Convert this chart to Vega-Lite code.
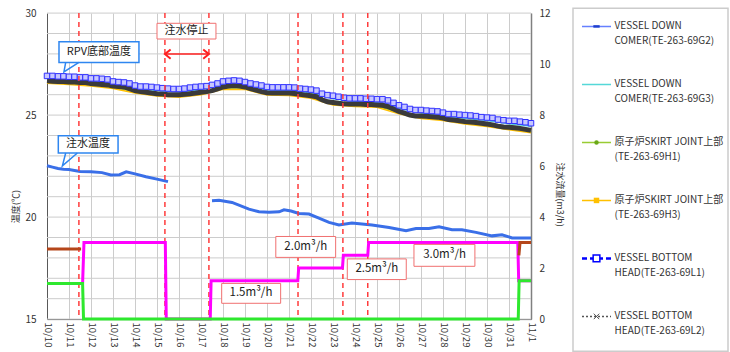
{
  "$schema": "https://vega.github.io/schema/vega-lite/v6.json",
  "padding": {"left": 11, "top": 7, "right": 0, "bottom": 0},
  "spacing": 9,
  "center": true,
  "config": {
    "font": "Noto Sans CJK JP",
    "view": {"stroke": null},
    "axis": {
      "ticks": false, "tickSize": 0, "labelOverlap": false,
      "labelFont": "Noto Sans CJK JP", "labelFontSize": 10, "labelColor": "#333333",
      "titleFont": "Noto Sans CJK JP", "titleFontSize": 9, "titleFontWeight": "normal", "titleColor": "#333333",
      "gridColor": "#cccccc", "gridOpacity": 1
    },
    "text": {"font": "Noto Sans CJK JP"}
  },
  "datasets": {
    "temp": [
      {"d":"2012-10-10T00:00","L1":26.92,"L2":26.68,"G2":26.82,"G3":26.77,"H1":26.63,"H3":26.56},
      {"d":"2012-10-10T06:00","L1":26.92,"L2":26.66},
      {"d":"2012-10-10T12:00","L1":26.9,"L2":26.65},
      {"d":"2012-10-10T18:00","L1":26.9,"L2":26.65},
      {"d":"2012-10-11T00:00","L1":26.88,"L2":26.62,"G2":26.78,"G3":26.73,"H1":26.57,"H3":26.5},
      {"d":"2012-10-11T06:00","L1":26.88,"L2":26.62},
      {"d":"2012-10-11T12:00","L1":26.85,"L2":26.6},
      {"d":"2012-10-11T18:00","L1":26.85,"L2":26.6},
      {"d":"2012-10-12T00:00","L1":26.8,"L2":26.55,"G2":26.7,"G3":26.65,"H1":26.5,"H3":26.43},
      {"d":"2012-10-12T06:00","L1":26.8,"L2":26.52},
      {"d":"2012-10-12T12:00","L1":26.78,"L2":26.5},
      {"d":"2012-10-12T18:00","L1":26.75,"L2":26.48},
      {"d":"2012-10-13T00:00","L1":26.65,"L2":26.42,"G2":26.55,"G3":26.5,"H1":26.37,"H3":26.3},
      {"d":"2012-10-13T06:00","L1":26.62,"L2":26.4},
      {"d":"2012-10-13T12:00","L1":26.6,"L2":26.38},
      {"d":"2012-10-13T18:00","L1":26.55,"L2":26.3},
      {"d":"2012-10-14T00:00","L1":26.45,"L2":26.2,"G2":26.35,"G3":26.3,"H1":26.15,"H3":26.08},
      {"d":"2012-10-14T06:00","L1":26.4,"L2":26.15},
      {"d":"2012-10-14T12:00","L1":26.4,"L2":26.12},
      {"d":"2012-10-14T18:00","L1":26.38,"L2":26.08},
      {"d":"2012-10-15T00:00","L1":26.35,"L2":26.05,"G2":26.25,"G3":26.2,"H1":26.0,"H3":25.93},
      {"d":"2012-10-15T06:00","L1":26.32,"L2":26.03},
      {"d":"2012-10-15T12:00","L1":26.3,"L2":26.0},
      {"d":"2012-10-15T18:00","L1":26.28,"L2":26.0},
      {"d":"2012-10-16T00:00","L1":26.28,"L2":26.0,"G2":26.18,"G3":26.13,"H1":25.95,"H3":25.88},
      {"d":"2012-10-16T06:00","L1":26.3,"L2":26.02},
      {"d":"2012-10-16T12:00","L1":26.35,"L2":26.05},
      {"d":"2012-10-16T18:00","L1":26.38,"L2":26.08},
      {"d":"2012-10-17T00:00","L1":26.4,"L2":26.12,"G2":26.3,"G3":26.25,"H1":26.07,"H3":26.0},
      {"d":"2012-10-17T06:00","L1":26.42,"L2":26.15},
      {"d":"2012-10-17T12:00","L1":26.48,"L2":26.2},
      {"d":"2012-10-17T18:00","L1":26.55,"L2":26.28},
      {"d":"2012-10-18T00:00","L1":26.65,"L2":26.38,"G2":26.55,"G3":26.5,"H1":26.33,"H3":26.26},
      {"d":"2012-10-18T06:00","L1":26.68,"L2":26.42},
      {"d":"2012-10-18T12:00","L1":26.7,"L2":26.45},
      {"d":"2012-10-18T18:00","L1":26.68,"L2":26.42},
      {"d":"2012-10-19T00:00","L1":26.62,"L2":26.38,"G2":26.52,"G3":26.47,"H1":26.33,"H3":26.26},
      {"d":"2012-10-19T06:00","L1":26.55,"L2":26.3},
      {"d":"2012-10-19T12:00","L1":26.5,"L2":26.22},
      {"d":"2012-10-19T18:00","L1":26.45,"L2":26.15},
      {"d":"2012-10-20T00:00","L1":26.38,"L2":26.1,"G2":26.28,"G3":26.23,"H1":26.05,"H3":25.98},
      {"d":"2012-10-20T06:00","L1":26.36,"L2":26.08},
      {"d":"2012-10-20T12:00","L1":26.36,"L2":26.08},
      {"d":"2012-10-20T18:00","L1":26.36,"L2":26.08},
      {"d":"2012-10-21T00:00","L1":26.36,"L2":26.08,"G2":26.26,"G3":26.21,"H1":26.03,"H3":25.96},
      {"d":"2012-10-21T06:00","L1":26.35,"L2":26.06},
      {"d":"2012-10-21T12:00","L1":26.3,"L2":26.02},
      {"d":"2012-10-21T18:00","L1":26.28,"L2":25.98},
      {"d":"2012-10-22T00:00","L1":26.25,"L2":25.95,"G2":26.15,"G3":26.1,"H1":25.9,"H3":25.83},
      {"d":"2012-10-22T06:00","L1":26.2,"L2":25.9},
      {"d":"2012-10-22T12:00","L1":26.05,"L2":25.75},
      {"d":"2012-10-22T18:00","L1":25.98,"L2":25.65},
      {"d":"2012-10-23T00:00","L1":25.95,"L2":25.62,"G2":25.85,"G3":25.8,"H1":25.57,"H3":25.5},
      {"d":"2012-10-23T06:00","L1":25.9,"L2":25.58},
      {"d":"2012-10-23T12:00","L1":25.85,"L2":25.55},
      {"d":"2012-10-23T18:00","L1":25.82,"L2":25.54},
      {"d":"2012-10-24T00:00","L1":25.82,"L2":25.54,"G2":25.72,"G3":25.67,"H1":25.49,"H3":25.42},
      {"d":"2012-10-24T06:00","L1":25.82,"L2":25.54},
      {"d":"2012-10-24T12:00","L1":25.8,"L2":25.52},
      {"d":"2012-10-24T18:00","L1":25.8,"L2":25.52},
      {"d":"2012-10-25T00:00","L1":25.78,"L2":25.5,"G2":25.68,"G3":25.63,"H1":25.45,"H3":25.38},
      {"d":"2012-10-25T06:00","L1":25.78,"L2":25.48},
      {"d":"2012-10-25T12:00","L1":25.72,"L2":25.42},
      {"d":"2012-10-25T18:00","L1":25.6,"L2":25.3},
      {"d":"2012-10-26T00:00","L1":25.48,"L2":25.18,"G2":25.38,"G3":25.33,"H1":25.13,"H3":25.06},
      {"d":"2012-10-26T06:00","L1":25.4,"L2":25.1},
      {"d":"2012-10-26T12:00","L1":25.3,"L2":25.0},
      {"d":"2012-10-26T18:00","L1":25.25,"L2":24.96},
      {"d":"2012-10-27T00:00","L1":25.25,"L2":24.95,"G2":25.15,"G3":25.1,"H1":24.9,"H3":24.83},
      {"d":"2012-10-27T06:00","L1":25.22,"L2":24.94},
      {"d":"2012-10-27T12:00","L1":25.2,"L2":24.92},
      {"d":"2012-10-27T18:00","L1":25.18,"L2":24.9},
      {"d":"2012-10-28T00:00","L1":25.12,"L2":24.85,"G2":25.02,"G3":24.97,"H1":24.8,"H3":24.73},
      {"d":"2012-10-28T06:00","L1":25.05,"L2":24.78},
      {"d":"2012-10-28T12:00","L1":25.05,"L2":24.76},
      {"d":"2012-10-28T18:00","L1":25.02,"L2":24.72},
      {"d":"2012-10-29T00:00","L1":25.0,"L2":24.68,"G2":24.9,"G3":24.85,"H1":24.63,"H3":24.56},
      {"d":"2012-10-29T06:00","L1":24.98,"L2":24.66},
      {"d":"2012-10-29T12:00","L1":24.95,"L2":24.64},
      {"d":"2012-10-29T18:00","L1":24.9,"L2":24.6},
      {"d":"2012-10-30T00:00","L1":24.88,"L2":24.56,"G2":24.78,"G3":24.73,"H1":24.51,"H3":24.44},
      {"d":"2012-10-30T06:00","L1":24.86,"L2":24.52},
      {"d":"2012-10-30T12:00","L1":24.78,"L2":24.46},
      {"d":"2012-10-30T18:00","L1":24.75,"L2":24.42},
      {"d":"2012-10-31T00:00","L1":24.72,"L2":24.4,"G2":24.62,"G3":24.57,"H1":24.35,"H3":24.28},
      {"d":"2012-10-31T06:00","L1":24.72,"L2":24.38},
      {"d":"2012-10-31T12:00","L1":24.68,"L2":24.35},
      {"d":"2012-10-31T18:00","L1":24.65,"L2":24.3},
      {"d":"2012-11-01T00:00","L1":24.6,"L2":24.25,"G2":24.5,"G3":24.45,"H1":24.2,"H3":24.13}
    ],
    "inj": [
      {"d":"2012-10-10T00:00","v":22.52,"seg":"a"},
      {"d":"2012-10-10T06:00","v":22.45,"seg":"a"},
      {"d":"2012-10-10T12:00","v":22.38,"seg":"a"},
      {"d":"2012-10-10T18:00","v":22.35,"seg":"a"},
      {"d":"2012-10-11T00:00","v":22.33,"seg":"a"},
      {"d":"2012-10-11T12:00","v":22.24,"seg":"a"},
      {"d":"2012-10-12T00:00","v":22.22,"seg":"a"},
      {"d":"2012-10-12T12:00","v":22.18,"seg":"a"},
      {"d":"2012-10-12T21:36","v":22.06,"seg":"a"},
      {"d":"2012-10-13T07:12","v":22.08,"seg":"a"},
      {"d":"2012-10-13T14:24","v":22.22,"seg":"a"},
      {"d":"2012-10-14T00:00","v":22.12,"seg":"a"},
      {"d":"2012-10-14T12:00","v":21.98,"seg":"a"},
      {"d":"2012-10-15T00:00","v":21.86,"seg":"a"},
      {"d":"2012-10-15T12:00","v":21.74,"seg":"a"},
      {"d":"2012-10-17T12:00","v":20.8,"seg":"b"},
      {"d":"2012-10-17T19:40","v":20.82,"seg":"b"},
      {"d":"2012-10-18T09:50","v":20.72,"seg":"b"},
      {"d":"2012-10-19T04:20","v":20.39,"seg":"b"},
      {"d":"2012-10-19T15:20","v":20.26,"seg":"b"},
      {"d":"2012-10-20T02:10","v":20.24,"seg":"b"},
      {"d":"2012-10-20T13:12","v":20.26,"seg":"b"},
      {"d":"2012-10-20T18:30","v":20.36,"seg":"b"},
      {"d":"2012-10-21T02:10","v":20.3,"seg":"b"},
      {"d":"2012-10-21T10:48","v":20.18,"seg":"b"},
      {"d":"2012-10-21T21:50","v":20.15,"seg":"b"},
      {"d":"2012-10-22T08:38","v":19.95,"seg":"b"},
      {"d":"2012-10-22T19:41","v":19.74,"seg":"b"},
      {"d":"2012-10-23T06:29","v":19.61,"seg":"b"},
      {"d":"2012-10-23T20:38","v":19.71,"seg":"b"},
      {"d":"2012-10-24T18:29","v":19.61,"seg":"b"},
      {"d":"2012-10-25T13:12","v":19.49,"seg":"b"},
      {"d":"2012-10-26T07:41","v":19.33,"seg":"b"},
      {"d":"2012-10-26T18:29","v":19.44,"seg":"b"},
      {"d":"2012-10-27T08:38","v":19.44,"seg":"b"},
      {"d":"2012-10-27T19:41","v":19.53,"seg":"b"},
      {"d":"2012-10-28T09:50","v":19.38,"seg":"b"},
      {"d":"2012-10-28T20:38","v":19.38,"seg":"b"},
      {"d":"2012-10-29T12:00","v":19.25,"seg":"b"},
      {"d":"2012-10-30T05:31","v":19.08,"seg":"b"},
      {"d":"2012-10-30T16:19","v":19.13,"seg":"b"},
      {"d":"2012-10-31T03:22","v":18.98,"seg":"b"},
      {"d":"2012-11-01T00:00","v":18.97,"seg":"b"}
    ],
    "flow": [
      {"d":"2012-10-11T14:50","v":1.4,"s":"M","seg":"m"},
      {"d":"2012-10-11T16:20","v":3.0,"s":"M","seg":"m"},
      {"d":"2012-10-15T09:05","v":3.0,"s":"M","seg":"m"},
      {"d":"2012-10-15T10:05","v":0,"s":"M","seg":"m"},
      {"d":"2012-10-17T10:05","v":0,"s":"M","seg":"m"},
      {"d":"2012-10-17T11:00","v":1.5,"s":"M","seg":"m"},
      {"d":"2012-10-21T09:36","v":1.5,"s":"M","seg":"m"},
      {"d":"2012-10-21T10:34","v":2.0,"s":"M","seg":"m"},
      {"d":"2012-10-23T10:19","v":2.0,"s":"M","seg":"m"},
      {"d":"2012-10-23T11:17","v":2.5,"s":"M","seg":"m"},
      {"d":"2012-10-24T13:55","v":2.5,"s":"M","seg":"m"},
      {"d":"2012-10-24T14:53","v":3.0,"s":"M","seg":"m"},
      {"d":"2012-10-31T09:36","v":3.0,"s":"M","seg":"m"},
      {"d":"2012-10-31T10:34","v":1.5,"s":"M","seg":"m"},
      {"d":"2012-11-01T00:00","v":1.5,"s":"M","seg":"m"},
      {"d":"2012-10-10T00:00","v":1.4,"s":"G","seg":"g"},
      {"d":"2012-10-11T14:50","v":1.4,"s":"G","seg":"g"},
      {"d":"2012-10-11T15:50","v":0,"s":"G","seg":"g"},
      {"d":"2012-10-31T10:05","v":0,"s":"G","seg":"g"},
      {"d":"2012-10-31T11:02","v":1.5,"s":"G","seg":"g"},
      {"d":"2012-11-01T00:00","v":1.5,"s":"G","seg":"g"},
      {"d":"2012-10-10T00:00","v":2.75,"s":"B","seg":"b1"},
      {"d":"2012-10-11T13:12","v":2.75,"s":"B","seg":"b1"},
      {"d":"2012-10-31T10:48","v":2.5,"s":"B","seg":"b2"},
      {"d":"2012-10-31T12:00","v":3.0,"s":"B","seg":"b2"},
      {"d":"2012-11-01T00:00","v":3.0,"s":"B","seg":"b2"}
    ]
  },
  "hconcat": [
    {
      "width": 484,
      "height": 306,
      "resolve": {"scale": {"y": "independent"}},
      "layer": [
        {
          "layer": [
            {
              "description": "one horizontal grid line per degree",
              "data": {"values": [
                {"v": 15}, {"v": 16}, {"v": 17}, {"v": 18}, {"v": 19}, {"v": 20}, {"v": 21}, {"v": 22},
                {"v": 23}, {"v": 24}, {"v": 25}, {"v": 26}, {"v": 27}, {"v": 28}, {"v": 29}, {"v": 30}
              ]},
              "mark": {"type": "rule", "color": "#cccccc", "strokeWidth": 1},
              "encoding": {
                "y": {
                  "field": "v", "type": "quantitative", "title": "温度(℃)",
                  "scale": {"domain": [15, 30], "nice": false, "zero": false},
                  "axis": {
                    "values": [15, 20, 25, 30],
                    "grid": false, "labelPadding": 11, "domainColor": "#595959", "labelOverlap": false,
                    "titleX": -32, "titleY": 193, "titleAngle": -90, "titleBaseline": "middle"
                  }
                }
              }
            },
            {
              "data": {"name": "temp"},
              "transform": [
                {"fold": ["G3", "G2", "H1", "H3"], "as": ["s", "v"]},
                {"filter": "isValid(datum.v)"}
              ],
              "mark": {"type": "line", "strokeWidth": 1.5},
              "encoding": {
                "x": {
                  "field": "d", "type": "temporal", "title": null,
                  "scale": {"domain": [{"year": 2012, "month": 10, "date": 10}, {"year": 2012, "month": 11, "date": 1}]},
                  "axis": {
                    "format": "%-m/%-d", "labelAngle": 90, "tickCount": {"interval": "day", "step": 1},
                    "grid": true, "labelPadding": 3, "domainColor": "#404040", "labelFontSize": 9.5,
                    "labelFlush": false, "labelOverlap": false
                  }
                },
                "y": {"field": "v", "type": "quantitative"},
                "color": {
                  "field": "s", "type": "nominal", "legend": null,
                  "scale": {"domain": ["G2", "G3", "H1", "H3", "L1", "L2"], "range": ["#6680ff", "#55d8d8", "#99cc33", "#ffc000", "#0000ff", "#555555"]}
                }
              }
            },
            {
              "data": {"name": "temp"},
              "transform": [
                {"fold": ["L2"], "as": ["s", "v"]},
                {"filter": "isValid(datum.v)"}
              ],
              "mark": {"type": "line", "strokeWidth": 5, "color": "#3a3a3a"},
              "encoding": {
                "x": {"field": "d", "type": "temporal", "title": null},
                "y": {"field": "v", "type": "quantitative"}
              }
            },
            {
              "data": {"name": "temp"},
              "transform": [
                {"fold": ["L1"], "as": ["s", "v"]},
                {"filter": "isValid(datum.v)"}
              ],
              "mark": {"type": "line", "strokeWidth": 1.5, "color": "#2b2bff", "strokeDash": [4, 2]},
              "encoding": {
                "x": {"field": "d", "type": "temporal", "title": null},
                "y": {"field": "v", "type": "quantitative"}
              }
            },
            {
              "data": {"name": "temp"},
              "transform": [
                {"fold": ["L1"], "as": ["s", "v"]},
                {"filter": "isValid(datum.v)"}
              ],
              "mark": {"type": "point", "shape": "square", "size": 30, "filled": true, "fill": "#c6c6ff", "stroke": "#3030ff", "strokeWidth": 1, "opacity": 1},
              "encoding": {
                "x": {"field": "d", "type": "temporal", "title": null},
                "y": {"field": "v", "type": "quantitative"}
              }
            },
            {
              "data": {"name": "inj"},
              "mark": {"type": "line", "strokeWidth": 3, "color": "#3a6fe8"},
              "encoding": {
                "x": {"field": "d", "type": "temporal", "title": null},
                "y": {"field": "v", "type": "quantitative"},
                "detail": {"field": "seg"}
              }
            },
            {
              "data": {"values": [
                {"d": "2012-10-11T10:48"}, {"d": "2012-10-15T08:38"}, {"d": "2012-10-17T08:38"},
                {"d": "2012-10-21T09:50"}, {"d": "2012-10-23T10:48"}, {"d": "2012-10-24T13:55"}
              ]},
              "mark": {"type": "rule", "color": "#ff3c3c", "strokeWidth": 1.5, "strokeDash": [5, 4]},
              "encoding": {
                "x": {"field": "d", "type": "temporal", "title": null}
              }
            },
            {
              "data": {
                "values": [
                  {"d": "2012-10-10T13:05", "d2": "2012-10-14T04:19", "v": 28.59, "v2": 27.58},
                  {"d": "2012-10-10T12:20", "d2": "2012-10-13T05:31", "v": 23.99, "v2": 23.14}
                ],
                "format": {"parse": {"d": "date", "d2": "date"}}
              },
              "mark": {"type": "rect", "fill": "#ffffff", "stroke": "#2e86f0", "strokeWidth": 1.5},
              "encoding": {
                "x": {"field": "d", "type": "temporal", "title": null},
                "x2": {"field": "d2"},
                "y": {"field": "v", "type": "quantitative"},
                "y2": {"field": "v2"}
              }
            },
            {
              "data": {
                "values": [
                  {"g": "rpv", "o": 1, "d": "2012-10-10T20:24", "v": 27.58},
                  {"g": "rpv", "o": 2, "d": "2012-10-10T18:29", "v": 27.12},
                  {"g": "rpv", "o": 3, "d": "2012-10-11T10:48", "v": 27.58},
                  {"g": "inj", "o": 1, "d": "2012-10-10T20:24", "v": 23.14},
                  {"g": "inj", "o": 2, "d": "2012-10-10T16:48", "v": 22.51},
                  {"g": "inj", "o": 3, "d": "2012-10-11T09:07", "v": 23.14}
                ]
              },
              "mark": {"type": "line", "strokeWidth": 1.5, "color": "#2e86f0"},
              "encoding": {
                "x": {"field": "d", "type": "temporal", "title": null},
                "y": {"field": "v", "type": "quantitative"},
                "detail": {"field": "g"},
                "order": {"field": "o"}
              }
            },
            {
              "data": {
                "values": [
                  {"d": "2012-10-15T00:00", "d2": "2012-10-17T16:19", "v": 29.5, "v2": 28.73}
                ],
                "format": {"parse": {"d": "date", "d2": "date"}}
              },
              "mark": {"type": "rect", "fill": "#ffffff", "stroke": "#f07070", "strokeWidth": 1},
              "encoding": {
                "x": {"field": "d", "type": "temporal", "title": null},
                "x2": {"field": "d2"},
                "y": {"field": "v", "type": "quantitative"},
                "y2": {"field": "v2"}
              }
            },
            {
              "data": {
                "values": [
                  {"d": "2012-10-15T08:38", "d2": "2012-10-17T08:38", "v": 27.99}
                ],
                "format": {"parse": {"d": "date", "d2": "date"}}
              },
              "mark": {"type": "rule", "color": "#ff2020", "strokeWidth": 1.5},
              "encoding": {
                "x": {"field": "d", "type": "temporal", "title": null},
                "x2": {"field": "d2"},
                "y": {"field": "v", "type": "quantitative"}
              }
            },
            {
              "data": {"values": [{"d": "2012-10-15T08:38", "v": 27.99}]},
              "mark": {"type": "point", "shape": "M1,-0.8L0,0L1,0.8", "size": 130, "filled": false, "stroke": "#ff2020", "strokeWidth": 2, "opacity": 1},
              "encoding": {
                "x": {"field": "d", "type": "temporal", "title": null},
                "y": {"field": "v", "type": "quantitative"}
              }
            },
            {
              "data": {"values": [{"d": "2012-10-17T08:38", "v": 27.99}]},
              "mark": {"type": "point", "shape": "M-1,-0.8L0,0L-1,0.8", "size": 130, "filled": false, "stroke": "#ff2020", "strokeWidth": 2, "opacity": 1},
              "encoding": {
                "x": {"field": "d", "type": "temporal", "title": null},
                "y": {"field": "v", "type": "quantitative"}
              }
            },
            {
              "data": {
                "values": [
                  {"d": "2012-10-12T08:38", "v": 28.09, "txt": "RPV底部温度"},
                  {"d": "2012-10-11T20:38", "v": 23.56, "txt": "注水温度"},
                  {"d": "2012-10-16T08:10", "v": 29.11, "txt": "注水停止"}
                ]
              },
              "mark": {"type": "text", "fontSize": 11, "color": "#222222", "align": "center", "baseline": "middle"},
              "encoding": {
                "x": {"field": "d", "type": "temporal", "title": null},
                "y": {"field": "v", "type": "quantitative"},
                "text": {"field": "txt"}
              }
            }
          ]
        },
        {
          "layer": [
            {
              "data": {"name": "flow"},
              "transform": [{"filter": {"field": "s", "equal": "M"}}],
              "mark": {"type": "line", "strokeWidth": 3, "color": "#ff00ff"},
              "encoding": {
                "x": {"field": "d", "type": "temporal", "title": null},
                "y": {
                  "field": "v", "type": "quantitative", "title": "注水流量(m3/h)",
                  "scale": {"domain": [0, 12], "nice": false},
                  "axis": {
                    "orient": "right", "values": [0, 1, 2, 3, 4, 5, 6, 7, 8, 9, 10, 11, 12],
                    "grid": false, "labelPadding": 8, "domainColor": "#808080", "domainWidth": 1.5, "labelOverlap": false,
                    "titleX": 28, "titleY": 181, "titleAngle": 90, "titleBaseline": "middle"
                  }
                }
              }
            },
            {
              "data": {"name": "flow"},
              "transform": [{"filter": {"field": "s", "equal": "G"}}],
              "mark": {"type": "line", "strokeWidth": 3, "color": "#2ee82e"},
              "encoding": {
                "x": {"field": "d", "type": "temporal", "title": null},
                "y": {"field": "v", "type": "quantitative"}
              }
            },
            {
              "data": {"name": "flow"},
              "transform": [{"filter": {"field": "s", "equal": "B"}}],
              "mark": {"type": "line", "strokeWidth": 3, "color": "#b5461a"},
              "encoding": {
                "x": {"field": "d", "type": "temporal", "title": null},
                "y": {"field": "v", "type": "quantitative"},
                "detail": {"field": "seg"}
              }
            },
            {
              "data": {
                "values": [
                  {"d": "2012-10-17T22:34", "d2": "2012-10-20T14:53", "v": 1.4, "v2": 0.62},
                  {"d": "2012-10-20T09:36", "d2": "2012-10-23T02:53", "v": 3.24, "v2": 2.42},
                  {"d": "2012-10-23T15:36", "d2": "2012-10-26T07:55", "v": 2.36, "v2": 1.55},
                  {"d": "2012-10-26T16:19", "d2": "2012-10-29T10:48", "v": 2.93, "v2": 2.07}
                ],
                "format": {"parse": {"d": "date", "d2": "date"}}
              },
              "mark": {"type": "rect", "fill": "#ffffff", "stroke": "#f07070", "strokeWidth": 1},
              "encoding": {
                "x": {"field": "d", "type": "temporal", "title": null},
                "x2": {"field": "d2"},
                "y": {"field": "v", "type": "quantitative"},
                "y2": {"field": "v2"}
              }
            },
            {
              "data": {
                "values": [
                  {"d": "2012-10-19T06:29", "v": 1.01, "txt": "1.5m³/h"},
                  {"d": "2012-10-21T18:14", "v": 2.83, "txt": "2.0m³/h"},
                  {"d": "2012-10-24T23:46", "v": 1.95, "txt": "2.5m³/h"},
                  {"d": "2012-10-28T01:41", "v": 2.5, "txt": "3.0m³/h"}
                ]
              },
              "mark": {"type": "text", "fontSize": 11.5, "color": "#222222", "align": "center", "baseline": "middle"},
              "encoding": {
                "x": {"field": "d", "type": "temporal", "title": null},
                "y": {"field": "v", "type": "quantitative"},
                "text": {"field": "txt"}
              }
            }
          ]
        }
      ]
    },
    {
      "width": 155,
      "height": 343,
      "data": {"values": [
        {"s": "G2", "i": 0, "l1": "VESSEL DOWN", "l2": "COMER(TE-263-69G2)"},
        {"s": "G3", "i": 1, "l1": "VESSEL DOWN", "l2": "COMER(TE-263-69G3)"},
        {"s": "H1", "i": 2, "l1": "原子炉SKIRT JOINT上部", "l2": "(TE-263-69H1)"},
        {"s": "H3", "i": 3, "l1": "原子炉SKIRT JOINT上部", "l2": "(TE-263-69H3)"},
        {"s": "L1", "i": 4, "l1": "VESSEL BOTTOM", "l2": "HEAD(TE-263-69L1)"},
        {"s": "L2", "i": 5, "l1": "VESSEL BOTTOM", "l2": "HEAD(TE-263-69L2)"}
      ]},
      "encoding": {
        "y": {"field": "i", "type": "quantitative", "axis": null, "scale": {"domain": [-0.3155, 5.598], "reverse": true, "nice": false, "zero": false}}
      },
      "layer": [
        {
          "data": {"values": [{"x0": 0, "x1": 155, "y0": -0.3155, "y1": 5.598}]},
          "mark": {"type": "rect", "fill": "#ffffff", "stroke": "#cccccc", "strokeWidth": 1.5},
          "encoding": {
            "x": {"field": "x0", "type": "quantitative", "axis": null, "scale": {"domain": [0, 155], "nice": false, "zero": false}},
            "x2": {"field": "x1"},
            "y": {"field": "y0", "type": "quantitative"},
            "y2": {"field": "y1"}
          }
        },
        {
          "transform": [{"filter": {"field": "s", "oneOf": ["G2", "G3", "H1", "H3", "L2"]}}],
          "mark": {"type": "rule", "strokeWidth": 1.5},
          "encoding": {
            "x": {"datum": 9, "type": "quantitative"},
            "x2": {"datum": 38},
            "color": {
              "field": "s", "type": "nominal", "legend": null,
              "scale": {"domain": ["G2", "G3", "H1", "H3", "L1", "L2"], "range": ["#6680ff", "#55d8d8", "#99cc33", "#ffc000", "#0000ff", "#555555"]}
            },
            "strokeDash": {
              "field": "s", "type": "nominal", "legend": null,
              "scale": {"domain": ["G2", "G3", "H1", "H3", "L2"], "range": [[1, 0], [1, 0], [1, 0], [1, 0], [2, 2]]}
            }
          }
        },
        {
          "transform": [{"filter": {"field": "s", "equal": "L1"}}],
          "mark": {"type": "rule", "strokeWidth": 2.5, "color": "#0000ff", "strokeDash": [5, 3]},
          "encoding": {
            "x": {"datum": 9, "type": "quantitative"},
            "x2": {"datum": 38}
          }
        },
        {
          "transform": [{"filter": {"field": "s", "equal": "G2"}}],
          "mark": {"type": "point", "shape": "stroke", "size": 40, "strokeWidth": 2.5, "color": "#1f3fcf", "filled": false, "opacity": 1},
          "encoding": {"x": {"datum": 23.5, "type": "quantitative"}}
        },
        {
          "transform": [{"filter": {"field": "s", "equal": "H1"}}],
          "mark": {"type": "point", "shape": "circle", "size": 20, "filled": true, "color": "#6aa818", "opacity": 1},
          "encoding": {"x": {"datum": 23.5, "type": "quantitative"}}
        },
        {
          "transform": [{"filter": {"field": "s", "equal": "H3"}}],
          "mark": {"type": "point", "shape": "square", "size": 30, "filled": true, "color": "#ffc000", "opacity": 1},
          "encoding": {"x": {"datum": 23.5, "type": "quantitative"}}
        },
        {
          "transform": [{"filter": {"field": "s", "equal": "L1"}}],
          "mark": {"type": "point", "shape": "square", "size": 45, "filled": true, "fill": "#ffffff", "stroke": "#0000ff", "strokeWidth": 1.5, "opacity": 1},
          "encoding": {"x": {"datum": 23.5, "type": "quantitative"}}
        },
        {
          "transform": [{"filter": {"field": "s", "equal": "L2"}}],
          "mark": {"type": "point", "shape": "M-1,-1L1,1M-1,1L1,-1", "size": 30, "filled": false, "stroke": "#555555", "strokeWidth": 1, "opacity": 1},
          "encoding": {"x": {"datum": 23.5, "type": "quantitative"}}
        },
        {
          "mark": {"type": "text", "align": "left", "baseline": "middle", "fontSize": 10, "color": "#333333"},
          "encoding": {
            "x": {"datum": 41.5, "type": "quantitative"},
            "text": {"field": "l1"}
          }
        },
        {
          "mark": {"type": "text", "align": "left", "baseline": "middle", "fontSize": 10, "color": "#333333", "dy": 15},
          "encoding": {
            "x": {"datum": 41.5, "type": "quantitative"},
            "text": {"field": "l2"}
          }
        }
      ]
    }
  ]
}
